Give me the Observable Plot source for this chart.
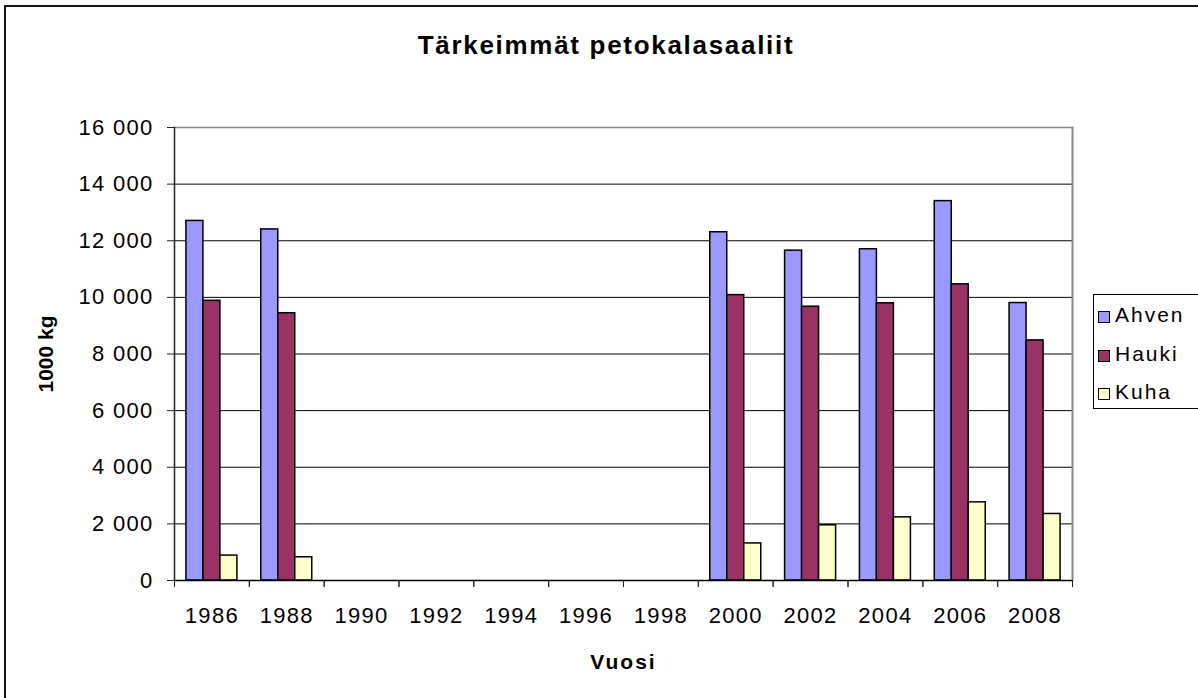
<!DOCTYPE html>
<html><head><meta charset="utf-8">
<script src="https://cdn.jsdelivr.net/npm/d3@7"></script>
<script src="https://cdn.jsdelivr.net/npm/@observablehq/plot@0.6"></script>
<style>
html,body{margin:0;padding:0;background:#fff;}
body{width:1198px;height:698px;position:relative;overflow:hidden;font-family:"Liberation Sans",Arial,sans-serif;color:#000;}
#frame{position:absolute;left:4px;top:5px;width:1300px;height:800px;border:2px solid #111;box-sizing:border-box;}
#title{position:absolute;left:0;width:1212px;top:30px;text-align:center;font-weight:bold;font-size:26px;letter-spacing:1.7px;line-height:30px;}
#chart{position:absolute;left:0;top:0;}
#chart svg text{letter-spacing:1.3px;}
#chart g[aria-label="x-axis label"] text,#chart g[aria-label="y-axis label"] text{font-weight:bold;font-size:21px;}
#chart g[aria-label="x-axis label"] text{letter-spacing:2px;}
#chart g[aria-label="y-axis label"] text{letter-spacing:0;}
#legend{position:absolute;left:1093px;top:294px;width:200px;height:115px;border:1px solid #000;background:#fff;box-sizing:border-box;}
.item{position:absolute;left:4px;height:24px;font-size:21px;letter-spacing:2px;line-height:24px;}
.sw{display:inline-block;width:10px;height:10px;border:1px solid #000;margin-right:5px;vertical-align:-1px;}
</style>
</head><body>
<div id="frame"></div>
<div id="chart"></div>
<div id="title">Tärkeimmät petokalasaaliit</div>
<div id="legend"></div>
<script>
const years = ["1986","1988","1990","1992","1994","1996","1998","2000","2002","2004","2006","2008"];
const series = ["Ahven","Hauki","Kuha"];
const colors = ["#9999FF","#993366","#FFFFCC"];
const ahven = [12700, 12400, null, null, null, null, null, 12300, 11650, 11700, 13400, 9800];
const hauki = [9880, 9440, null, null, null, null, null, 10080, 9670, 9790, 10460, 8480];
const kuha  = [880, 820, null, null, null, null, null, 1310, 1950, 2230, 2760, 2350];
const yTicks = [0,2000,4000,6000,8000,10000,12000,14000,16000];

const values = [ahven, hauki, kuha];
const data = [];
series.forEach((s, i) => years.forEach((y, j) => {
  if (values[i][j] != null) data.push({year: y, species: s, value: values[i][j]});
}));

const fmt = d3.formatLocale({thousands: " ", grouping: [3], decimal: ","}).format(",");

const W = 1198, H = 698, mL = 174, mR = 126, mT = 127, mB = 118;
const band = (W - mL - mR) / years.length;
const barW = 17, pad = (band - 3 * barW) / 2;

const barMarks = series.map((s, i) => Plot.barY(data.filter(d => d.species === s), {
  x: "year", y: "value", fill: colors[i], stroke: "#000", strokeWidth: 1.5,
  insetLeft: pad + i * barW, insetRight: band - pad - (i + 1) * barW
}));

const chart = Plot.plot({
  width: W, height: H,
  marginLeft: mL, marginRight: mR, marginTop: mT, marginBottom: mB,
  style: {fontSize: "22px", fontFamily: "'Liberation Sans', Arial, sans-serif", color: "#000", background: "transparent", overflow: "visible"},
  x: {domain: years, padding: 0, round: false},
  y: {domain: [0, 16000]},
  marks: [
    Plot.ruleY(yTicks.slice(0, -1), {stroke: "#000", strokeWidth: 1}),
    Plot.ruleY([16000], {stroke: "#888", strokeWidth: 1.5}),
    Plot.frame({anchor: "right", stroke: "#888", strokeWidth: 2}),
    ...barMarks,
    Plot.ruleY([0], {stroke: "#000", strokeWidth: 1.5}),
    Plot.frame({anchor: "left", stroke: "#222", strokeWidth: 1.5}),
    Plot.axisY({ticks: yTicks, tickFormat: fmt, tickSize: 7, tickPadding: 14, stroke: "#222",
      label: "1000 kg", labelArrow: "none", labelAnchor: "center", labelOffset: 136}),
    Plot.axisX({tickSize: 7, tickFormat: () => "", dx: -band / 2, stroke: "#222", label: null}),
    Plot.axisX({tickSize: 7, tickFormat: () => "", dx: band / 2, stroke: "#222", label: null}),
    Plot.axisX({tickSize: 0, tickPadding: 27, label: "Vuosi", labelArrow: "none", labelAnchor: "center", labelOffset: 88})
  ]
});
document.getElementById("chart").appendChild(chart);

const legend = document.getElementById("legend");
series.forEach((s, i) => {
  const it = document.createElement("div");
  it.className = "item";
  it.style.top = (8 + i * 38.5) + "px";
  it.innerHTML = `<span class="sw" style="background:${colors[i]}"></span>${s}`;
  legend.appendChild(it);
});
</script>
</body></html>
